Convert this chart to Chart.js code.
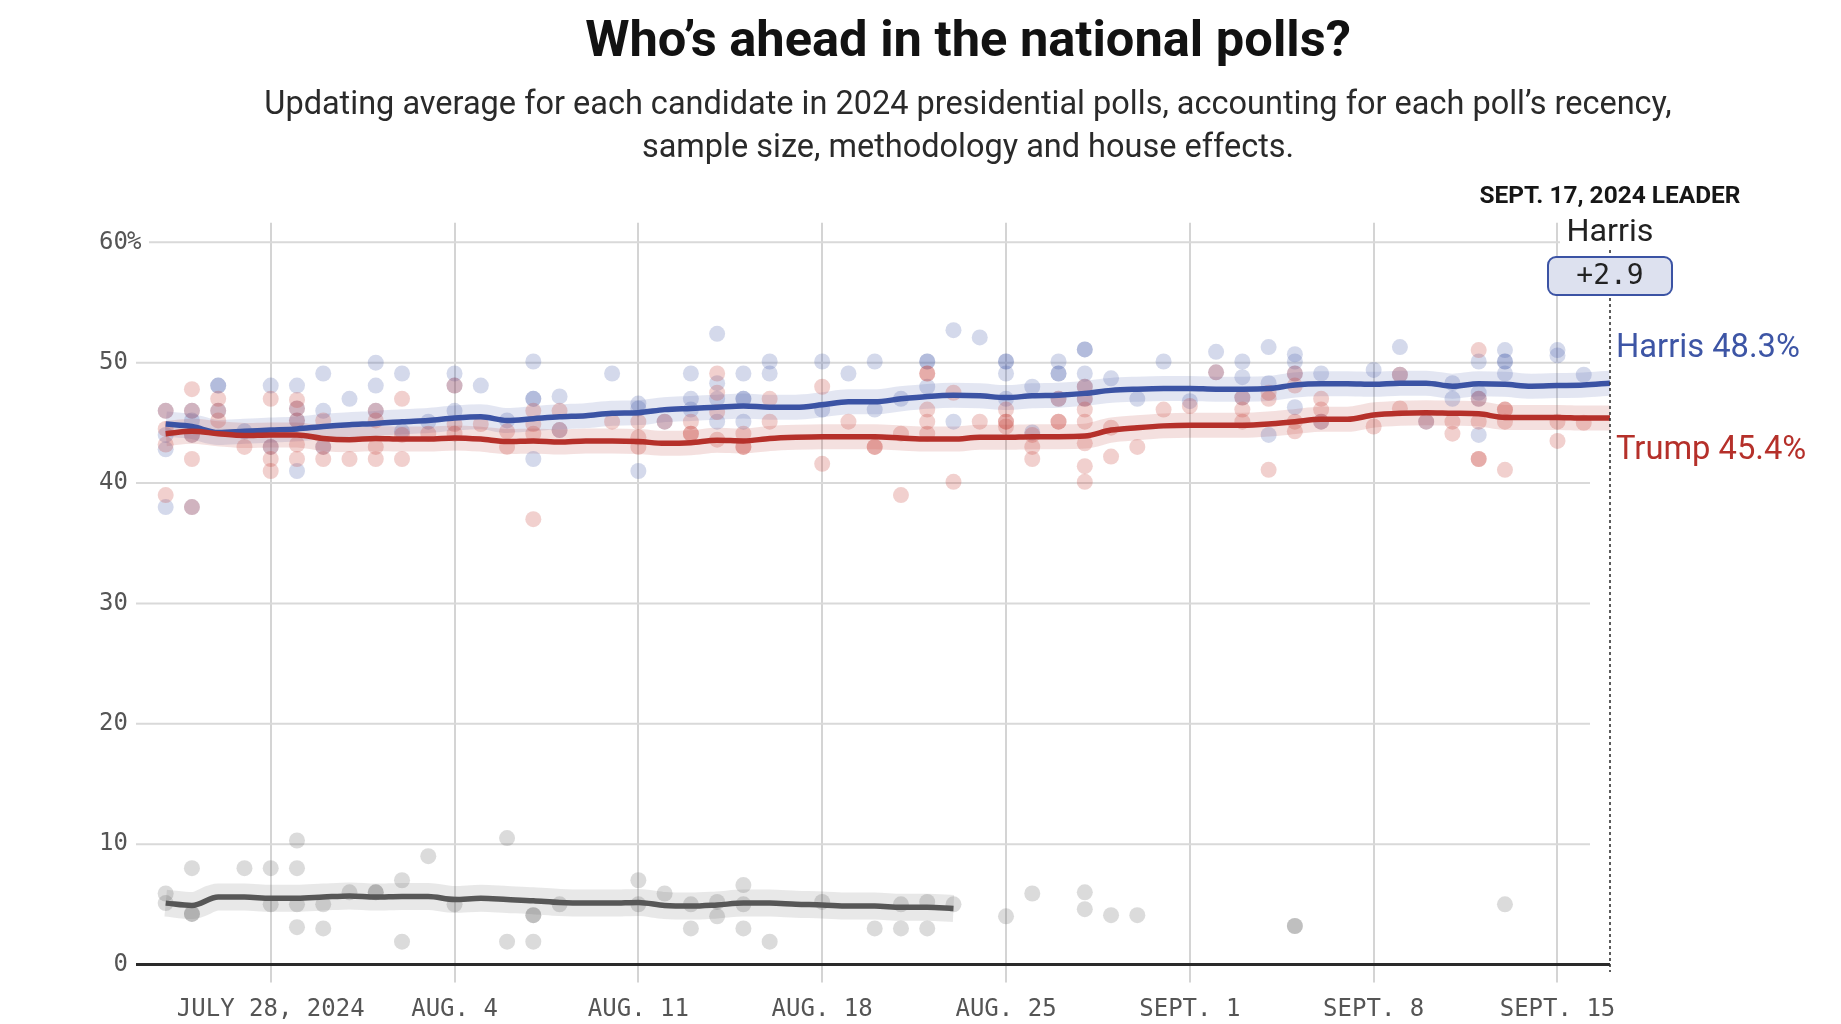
<!DOCTYPE html>
<html>
<head>
<meta charset="utf-8">
<script src="https://cdn.jsdelivr.net/npm/chart.js@4.4.1/dist/chart.umd.min.js"></script>
<style>
html,body{margin:0;padding:0;background:#fff;}
canvas{display:block;}
</style>
</head>
<body>
<canvas id="c" width="1841" height="1024"></canvas>
<script>
// ---------- DATA ----------
// Day numbers: July d = d, Aug d = 31 + d, Sept d = 62 + d
const tickDays   = [28, 35, 42, 49, 56, 63, 70, 77];
const tickLabels = ['JULY 28, 2024', 'AUG. 4', 'AUG. 11', 'AUG. 18', 'AUG. 25', 'SEPT. 1', 'SEPT. 8', 'SEPT. 15'];
const yTicks     = [0, 10, 20, 30, 40, 50, 60];

const avgDays = [24,25,26,27,28,29,30,31,32,33,34,35,36,37,38,39,40,41,42,43,44,45,46,47,48,49,50,51,
                 52,53,54,55,56,57,58,59,60,61,62,63,64,65,66,67,68,69,70,71,72,73,74,75,76,77,78,79];
const harrisAvg = [44.9,44.7,44.2,44.3,44.4,44.5,44.7,44.85,44.95,45.1,45.2,45.4,45.5,45.2,45.35,45.5,45.6,45.8,
                   45.85,46.1,46.2,46.3,46.4,46.3,46.3,46.5,46.75,46.75,47.0,47.2,47.3,47.25,47.1,47.25,47.3,47.45,
                   47.7,47.8,47.85,47.85,47.8,47.8,47.85,48.15,48.25,48.25,48.2,48.3,48.3,48.05,48.25,48.2,48.05,
                   48.1,48.15,48.3];
const trumpAvg  = [44.1,44.3,44.1,43.95,44.0,44.0,43.7,43.6,43.7,43.65,43.65,43.75,43.65,43.45,43.5,43.4,43.5,43.5,
                   43.45,43.3,43.35,43.55,43.5,43.7,43.8,43.85,43.85,43.85,43.75,43.65,43.65,43.8,43.8,43.85,43.85,
                   43.9,44.4,44.6,44.75,44.8,44.8,44.8,44.9,45.1,45.3,45.3,45.65,45.8,45.85,45.8,45.75,45.45,45.45,
                   45.45,45.4,45.4];
const otherDays = [24,25,26,27,28,29,30,31,32,33,34,35,36,37,38,39,40,41,42,43,44,45,46,47,48,49,50,51,52,53,54];
const otherAvg  = [5.1,4.9,5.6,5.6,5.5,5.5,5.6,5.7,5.6,5.65,5.65,5.4,5.5,5.4,5.3,5.15,5.1,5.1,5.15,4.9,4.85,4.95,
                   5.1,5.1,5.0,4.95,4.85,4.85,4.75,4.75,4.65];

// Individual polls: [day, value]
const harrisPolls = [
  [24,46],[24,44],[24,42.8],[24,38],[25,46],[25,45.2],[25,44],[25,38],[26,48.1],[26,48.1],[26,46],[27,44.3],
  [28,48.1],[28,43],[29,48.1],[29,46.2],[29,45.2],[29,41],[30,49.1],[30,46],[30,43],[31,47],[32,50],[32,48.1],
  [32,46],[33,49.1],[33,44.3],[34,45.1],[35,49.1],[35,48.1],[35,46],[36,48.1],[37,45.2],[38,50.1],[38,47],[38,47],
  [38,42],[39,47.2],[39,44.4],[41,49.1],[42,46.6],[42,46.2],[42,41],[43,45.1],[44,49.1],[44,47],[44,46.1],
  [45,52.4],[45,48.3],[45,47],[45,45.1],[46,49.1],[46,47],[46,47],[46,45.1],[47,50.1],[47,49.1],[49,50.1],[49,46.1],
  [50,49.1],[51,50.1],[51,46.1],[52,47],[53,50.1],[53,50.1],[53,48],[54,52.7],[54,45.1],[55,52.1],[56,50.1],
  [56,50.1],[56,49.1],[56,47],[57,48],[57,44.2],[58,50.1],[58,49.1],[58,49.1],[58,47],[59,51.1],[59,51.1],[59,49.1],
  [59,48],[59,47],[60,48.7],[61,47],[62,50.1],[63,46.8],[64,50.9],[64,49.2],[65,50.1],[65,48.8],[65,47.1],[66,51.3],
  [66,48.3],[66,44],[67,50.7],[67,50.1],[67,49.1],[67,46.3],[68,49.1],[68,45.1],[70,49.4],[71,51.3],[71,49],
  [72,45.1],[73,48.3],[73,47],[74,50.1],[74,47.5],[74,47],[74,44],[75,51.05],[75,50.1],[75,50.1],[75,49.1],
  [77,51.05],[77,50.6],[78,49]
];
const trumpPolls = [
  [24,46],[24,44.5],[24,43.2],[24,39],[25,47.8],[25,46],[25,44],[25,42],[25,38],[26,47],[26,46],[26,45.2],[27,43],
  [28,47],[28,43],[28,42],[28,41],[29,46.9],[29,46.2],[29,45.2],[29,43.2],[29,42],[30,45.2],[30,43],[30,42],[31,42],
  [32,46],[32,45.2],[32,43],[32,42],[33,47],[33,44],[33,42],[34,44.1],[35,48.1],[35,44.9],[35,44.1],[36,44.9],
  [37,44.3],[37,43],[38,46],[38,44.9],[38,44.1],[38,37],[39,46],[39,44.4],[41,45.1],[42,45.1],[42,43.8],[42,43],
  [43,45.1],[44,45.1],[44,44.1],[44,44.1],[45,49.1],[45,47.5],[45,45.9],[45,43.6],[46,44.1],[46,43],[46,43],[47,47],
  [47,45.1],[49,48],[49,41.6],[50,45.1],[51,43],[51,43],[52,44.1],[52,39],[53,49.1],[53,49.1],[53,46.1],[53,45.1],
  [53,44.1],[54,47.5],[54,40.1],[55,45.1],[56,46.1],[56,45.1],[56,45.1],[56,44.7],[57,44],[57,43],[57,42],[58,47],
  [58,45.1],[58,45.1],[59,48],[59,47],[59,46.1],[59,45.1],[59,43.3],[59,41.4],[59,40.1],[60,44.6],[60,42.2],[61,43],
  [62,46.1],[63,46.4],[64,49.2],[65,47.1],[65,46.1],[65,45.1],[66,47.5],[66,47],[66,41.1],[67,49.1],[67,48.1],
  [67,45.1],[67,44.3],[68,47],[68,46.1],[68,45.1],[70,44.7],[71,49],[71,46.2],[72,45.1],[73,45.1],[73,44.1],
  [74,51.05],[74,47],[74,45.1],[74,42],[74,42],[75,46.1],[75,46.1],[75,45.1],[75,41.1],[77,45.1],[77,43.5],[78,45]
];
const otherPolls = [
  [24,5.9],[24,5.1],[25,8],[25,4.2],[25,4.2],[27,8],[28,8],[28,5],[29,10.3],[29,8],[29,5],[29,3.1],[30,5],[30,3],
  [31,6],[32,6],[32,6],[33,7],[33,1.9],[34,9],[35,5],[37,10.5],[37,1.9],[38,4.1],[38,4.1],[38,1.9],[39,5],[42,7],
  [42,5],[43,5.9],[44,5],[44,3],[45,5.2],[45,4],[46,6.6],[46,5],[46,3],[47,1.9],[49,5.2],[51,3],[52,5],[52,3],
  [53,5.2],[53,3],[54,5],[56,4],[57,5.9],[59,6],[59,4.6],[60,4.1],[61,4.1],[67,3.2],[67,3.2],[75,5]
];

const leaderDay   = 79;
const leaderDate  = 'SEPT. 17, 2024 LEADER';
const leaderName  = 'Harris';
const harrisFinal = 48.3;
const trumpFinal  = 45.4;
const leadMargin  = 2.9;

const titleText = 'Who’s ahead in the national polls?';
const subLines  = ['Updating average for each candidate in 2024 presidential polls, accounting for each poll’s recency,',
                   'sample size, methodology and house effects.'];

// ---------- STYLE ----------
const MONO = "'DejaVu Sans Mono', 'Liberation Mono', monospace";
const SANS = "Roboto, 'Liberation Sans', sans-serif";
const BLUE = '#3b53a4', RED = '#b5302a', GRAY = '#575757';

const pts = (xs, ys) => xs.map((d, i) => ({x: d, y: ys[i]}));
const pp  = arr => arr.map(p => ({x: p[0], y: p[1]}));

function fitSize(ctx, text, weight, family, target) {
  ctx.font = weight + ' 100px ' + family;
  return 100 * target / ctx.measureText(text).width;
}

const annot = {
  id: 'annot',
  beforeDatasetsDraw(chart) {
    const {ctx, scales: {x, y}, chartArea: ca} = chart;
    ctx.save();
    yTicks.forEach(v => {
      const py = y.getPixelForValue(v);
      ctx.beginPath();
      if (v === 0) {
        ctx.strokeStyle = '#2a2a2a'; ctx.lineWidth = 3.2;
        ctx.moveTo(ca.left, py); ctx.lineTo(ca.right, py);
      } else {
        ctx.strokeStyle = '#d9d9d9'; ctx.lineWidth = 2;
        ctx.moveTo(v === 60 ? ca.left + 13 : ca.left, py);
        ctx.lineTo(v === 60 ? 1560 : 1590, py);
      }
      ctx.stroke();
    });
    // "%" after top tick label
    ctx.font = '24px ' + MONO; ctx.fillStyle = '#555';
    ctx.textAlign = 'left'; ctx.textBaseline = 'middle';
    ctx.fillText('%', ca.left - 9, y.getPixelForValue(60));
    ctx.restore();
  },
  afterDraw(chart) {
    const {ctx, scales: {x, y}} = chart;
    ctx.save();
    const cx = 968;
    // title
    let s = fitSize(ctx, titleText, 'bold', SANS, 766);
    ctx.font = 'bold ' + s + 'px ' + SANS;
    ctx.fillStyle = '#121212'; ctx.textAlign = 'center'; ctx.textBaseline = 'alphabetic';
    ctx.fillText(titleText, cx, 56);
    // subtitle
    s = fitSize(ctx, subLines[0], '400', SANS, 1408);
    ctx.font = '400 ' + s + 'px ' + SANS;
    ctx.fillStyle = '#2a2a2a';
    ctx.fillText(subLines[0], cx, 114);
    ctx.fillText(subLines[1], cx, 157);

    const xL = x.getPixelForValue(leaderDay);
    // dotted leader line
    ctx.strokeStyle = '#333'; ctx.lineWidth = 1.6; ctx.setLineDash([3, 3]);
    ctx.beginPath(); ctx.moveTo(xL, 250); ctx.lineTo(xL, 972); ctx.stroke();
    ctx.setLineDash([]);
    // header
    s = fitSize(ctx, leaderDate, 'bold', SANS, 261);
    ctx.font = 'bold ' + s + 'px ' + SANS; ctx.fillStyle = '#161616';
    ctx.fillText(leaderDate, xL, 203);
    s = fitSize(ctx, leaderName, '400', SANS, 87);
    ctx.font = '400 ' + s + 'px ' + SANS; ctx.fillStyle = '#222';
    ctx.fillText(leaderName, xL, 241);
    // margin box
    ctx.beginPath();
    ctx.roundRect(xL - 62, 257, 124, 38, 8);
    ctx.fillStyle = '#dde1ef'; ctx.fill();
    ctx.strokeStyle = BLUE; ctx.lineWidth = 2; ctx.stroke();
    ctx.font = '28px ' + MONO; ctx.fillStyle = '#222'; ctx.textBaseline = 'middle';
    ctx.fillText('+' + leadMargin.toFixed(1), xL, 277);
    // end labels
    ctx.textAlign = 'left'; ctx.textBaseline = 'alphabetic';
    const hl = 'Harris ' + harrisFinal.toFixed(1) + '%';
    const tl = 'Trump ' + trumpFinal.toFixed(1) + '%';
    s = fitSize(ctx, hl, '400', SANS, 184);
    ctx.font = '400 ' + s + 'px ' + SANS;
    ctx.fillStyle = '#3d55a5';
    ctx.fillText(hl, xL + 6, y.getPixelForValue(harrisFinal) - 26);
    ctx.fillStyle = RED;
    ctx.fillText(tl, xL + 6, y.getPixelForValue(trumpFinal) + 41);
    ctx.restore();
  }
};

const band = (data, color, w) => ({type: 'line', data, borderColor: color, borderWidth: w, pointRadius: 0,
  cubicInterpolationMode: 'monotone', borderJoinStyle: 'round', fill: false, order: 3});
const dots = (data, color) => ({type: 'line', data, showLine: false, pointRadius: 8, pointHoverRadius: 8,
  pointBackgroundColor: color, pointBorderWidth: 0, order: 2});
const line = (data, color) => ({type: 'line', data, borderColor: color, borderWidth: 5.5, pointRadius: 0,
  cubicInterpolationMode: 'monotone', borderJoinStyle: 'round', fill: false, order: 1});

new Chart(document.getElementById('c'), {
  type: 'line',
  data: {
    datasets: [
      band(pts(otherDays, otherAvg), 'rgba(90,90,90,0.14)', 27),
      band(pts(avgDays, trumpAvg), 'rgba(184,50,42,0.15)', 25),
      band(pts(avgDays, harrisAvg), 'rgba(59,83,164,0.145)', 25),
      dots(pp(otherPolls), 'rgba(90,90,90,0.22)'),
      dots(pp(trumpPolls), 'rgba(196,60,50,0.24)'),
      dots(pp(harrisPolls), 'rgba(59,83,164,0.22)'),
      line(pts(otherDays, otherAvg), GRAY),
      line(pts(avgDays, trumpAvg), RED),
      line(pts(avgDays, harrisAvg), BLUE)
    ]
  },
  options: {
    responsive: false,
    devicePixelRatio: 1,
    animation: false,
    events: [],
    layout: {padding: {top: 222.7, right: 231, bottom: 0, left: 0}},
    plugins: {legend: {display: false}, tooltip: {enabled: false}, title: {display: false}},
    scales: {
      x: {
        type: 'linear', min: 22.87, max: leaderDay,
        afterBuildTicks: sc => { sc.ticks = tickDays.map(v => ({value: v})); },
        afterFit: sc => { sc.height = 59.5; },
        ticks: {callback: (v, i) => tickLabels[i], font: {family: MONO, size: 24}, color: '#555',
                padding: 13, maxRotation: 0, autoSkip: false},
        grid: {color: '#d4d4d4', lineWidth: 2, tickLength: 18, drawTicks: true, drawOnChartArea: true},
        border: {display: false}
      },
      y: {
        min: 0, max: 61.63,
        afterBuildTicks: sc => { sc.ticks = yTicks.map(v => ({value: v})); },
        afterFit: sc => { sc.width = 136; },
        ticks: {callback: v => String(v), font: {family: MONO, size: 24}, color: '#555', padding: 8},
        grid: {display: false, drawTicks: false},
        border: {display: false}
      }
    }
  },
  plugins: [annot]
});
</script>
</body>
</html>
